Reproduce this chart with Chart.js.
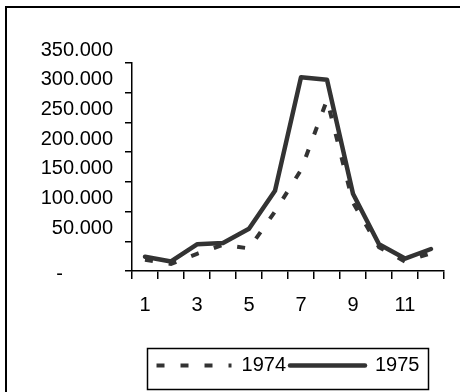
<!DOCTYPE html>
<html>
<head>
<meta charset="utf-8">
<script src="https://cdn.jsdelivr.net/npm/chart.js@4.4.1/dist/chart.umd.min.js"></script>
<style>
  html, body { margin: 0; padding: 0; background: #fff; }
  canvas { display: block; }
</style>
</head>
<body>
<canvas id="chart" width="460" height="392"></canvas>
<script>
/* Monthly totals 1974 vs 1975 — line chart, Excel-style frame. */
(function () {
  "use strict";

  // ── Data ───────────────────────────────────────────────────────
  var months = ["1", "2", "3", "4", "5", "6", "7", "8", "9", "10", "11", "12"];
  var values1974 = [19000, 12000, 29000, 44000, 38000, 100000, 170000, 288000, 115000, 40000, 16000, 30000];
  var values1975 = [24000, 16000, 45000, 47000, 71000, 135000, 326000, 322000, 130000, 45000, 21000, 37000];
  var yTicks = [0, 50000, 100000, 150000, 200000, 250000, 300000, 350000];

  var ink = "#333333";
  var font = "'Liberation Sans', Arial, sans-serif";

  function fmt(v) {
    return String(v).replace(/\B(?=(\d{3})+(?!\d))/g, ".");
  }

  // ── Frame + legend box + centred legend ────────────────────────
  var framePlugin = {
    id: "frame",
    afterLayout: function (chart) {
      var lg = chart.legend;
      if (!lg) return;
      var dx = (chart.chartArea.left + chart.chartArea.right) / 2 - (lg.left + lg.right) / 2;
      lg.left += dx;
      lg.right += dx;
    },
    afterDraw: function (chart) {
      var ctx = chart.ctx;
      ctx.save();
      // outer chart border (left + top only are inside the picture)
      ctx.fillStyle = "#000";
      ctx.fillRect(5, 6, 2, chart.height);
      ctx.fillRect(5, 6, chart.width, 2);
      // legend border
      var hb = chart.legend.legendHitBoxes;
      if (hb && hb.length) {
        var l = Math.min.apply(null, hb.map(function (b) { return b.left; })) - 10;
        var r = Math.max.apply(null, hb.map(function (b) { return b.left + b.width; })) + 8;
        var cy = hb[0].top + hb[0].height / 2;
        ctx.strokeStyle = "#000";
        ctx.lineWidth = 1.5;
        ctx.strokeRect(Math.round(l) + 0.5, Math.round(cy - 18) + 0.5, Math.round(r - l), 41);
      }
      ctx.restore();
    },
  };

  new Chart(document.getElementById("chart"), {
    type: "line",
    data: {
      labels: months,
      datasets: [
        {
          label: "1974",
          data: values1974,
          borderColor: ink,
          backgroundColor: ink,
          borderWidth: 4,
          borderDash: [8, 16],
          borderCapStyle: "butt",
          pointRadius: 0,
          tension: 0,
          order: 1,
        },
        {
          label: "1975",
          data: values1975,
          borderColor: ink,
          backgroundColor: ink,
          borderWidth: 4.5,
          borderCapStyle: "round",
          borderJoinStyle: "round",
          pointRadius: 0,
          tension: 0,
          order: 0,
        },
      ],
    },
    options: {
      responsive: false,
      animation: false,
      layout: { padding: { top: 63, right: 16, bottom: 6.5, left: 0 } },
      plugins: {
        tooltip: { enabled: false },
        legend: {
          position: "bottom",
          labels: {
            usePointStyle: true,
            pointStyle: "line",
            pointStyleWidth: 75,
            padding: 4,
            color: "#000",
            font: { family: font, size: 20 },
            generateLabels: function (chart) {
              var items = Chart.defaults.plugins.legend.labels.generateLabels(chart);
              items.forEach(function (it) {
                var ds = chart.data.datasets[it.datasetIndex];
                it.lineDash = ds.borderDash || [];
                it.lineWidth = ds.borderWidth;
                it.lineCap = ds.borderCapStyle;
                it.strokeStyle = ds.borderColor;
              });
              return items.sort(function (a, b) { return a.datasetIndex - b.datasetIndex; });
            },
          },
        },
      },
      scales: {
        x: {
          offset: true,
          grid: {
            offset: true,
            drawOnChartArea: false,
            tickLength: 8,
            color: "#000",
            lineWidth: 1.5,
          },
          border: { color: "#000", width: 1.5 },
          ticks: {
            autoSkip: false,
            maxRotation: 0,
            padding: 14.5,
            color: "#000",
            font: { family: font, size: 20 },
            callback: function (v, i) { return i % 2 === 0 ? months[i] : ""; },
          },
          afterFit: function (s) { s.height = 80.5; },
        },
        y: {
          min: yTicks[0],
          max: yTicks[yTicks.length - 1],
          afterBuildTicks: function (s) {
            s.ticks = yTicks.map(function (v) { return { value: v }; });
          },
          grid: {
            drawOnChartArea: false,
            tickLength: 7,
            color: "#000",
            lineWidth: 1.5,
          },
          border: { color: "#000", width: 1.5 },
          ticks: {
            autoSkip: false,
            padding: 12,
            labelOffset: -13,
            color: "#000",
            font: { family: font, size: 20, lineHeight: 1.6 },
            callback: function (v) { return v === 0 ? ["", "-         "] : fmt(v); },
          },
          afterFit: function (s) { s.width = 132; },
        },
      },
    },
    plugins: [framePlugin],
  });
})();
</script>
</body>
</html>
